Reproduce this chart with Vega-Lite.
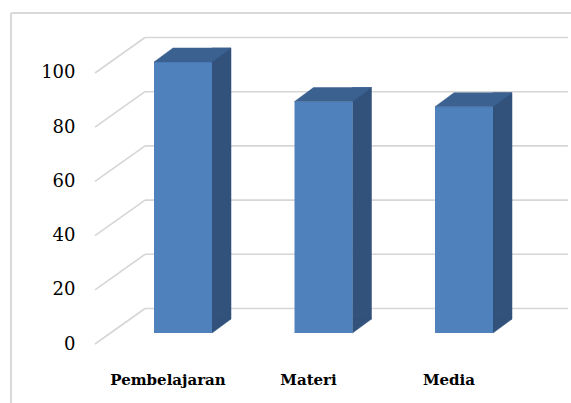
{
  "$schema": "https://vega.github.io/schema/vega-lite/v6.json",
  "width": 560,
  "height": 390,
  "autosize": {"type": "none"},
  "padding": {"left": 11, "top": 13, "right": 0, "bottom": 0},
  "background": "white",
  "config": {"view": {"stroke": null}, "font": "DejaVu Serif"},
  "datasets": {
    "scores": [
      {"aspek": "Pembelajaran", "nilai": 100},
      {"aspek": "Materi", "nilai": 85.4},
      {"aspek": "Media", "nilai": 83.5}
    ],
    "ticks": [{"t": 0}, {"t": 20}, {"t": 40}, {"t": 60}, {"t": 80}, {"t": 100}],
    "frame": [{"edge": "frame"}]
  },
  "layer": [
    {
      "data": {"name": "frame"},
      "mark": {"type": "rule", "color": "#d9d9d9", "strokeWidth": 2},
      "encoding": {
        "x": {"datum": 0, "type": "quantitative", "scale": {"domain": [0, 1], "nice": false, "zero": false}, "axis": null}
      }
    },
    {
      "data": {"name": "frame"},
      "mark": {"type": "rule", "color": "#d9d9d9", "strokeWidth": 2},
      "encoding": {
        "y": {"datum": 118.08, "type": "quantitative", "scale": {"domain": [-25.83, 118.08], "nice": false, "zero": false}, "axis": null}
      }
    },
    {
      "data": {"name": "ticks"},
      "mark": {"type": "rule", "color": "#d6d6d6", "strokeWidth": 1.6, "yOffset": 11, "y2Offset": -24.5},
      "encoding": {
        "x": {"datum": 0.15, "type": "quantitative", "scale": {"domain": [0, 1], "nice": false, "zero": false}, "axis": null},
        "x2": {"datum": 0.2393},
        "y": {"field": "t", "type": "quantitative", "scale": {"domain": [-25.83, 118.08], "nice": false, "zero": false}, "axis": null},
        "y2": {"field": "t"}
      }
    },
    {
      "data": {"name": "ticks"},
      "mark": {"type": "rule", "color": "#d6d6d6", "strokeWidth": 1.6, "yOffset": -24.5},
      "encoding": {
        "x": {"datum": 0.2393, "type": "quantitative", "scale": {"domain": [0, 1], "nice": false, "zero": false}, "axis": null},
        "x2": {"datum": 0.9946},
        "y": {"field": "t", "type": "quantitative", "scale": {"domain": [-25.83, 118.08], "nice": false, "zero": false}, "axis": null}
      }
    },
    {
      "data": {"name": "scores"},
      "encoding": {
        "x": {
          "field": "aspek",
          "type": "nominal",
          "sort": null,
          "scale": {"paddingInner": 0, "paddingOuter": 0.4929, "align": 0.7347},
          "axis": {
            "orient": "bottom",
            "title": null,
            "domain": false,
            "ticks": false,
            "tickSize": 0,
            "labelAngle": 0,
            "labelFont": "DejaVu Serif",
            "labelFontWeight": "bold",
            "labelFontSize": 15,
            "labelColor": "#000000",
            "labelOffset": -15,
            "offset": -59,
            "labelPadding": 28
          }
        }
      },
      "layer": [
        {
          "mark": {"type": "bar", "width": 19, "xOffset": 38.5, "yOffset": -14, "y2Offset": -14, "color": "#32527C", "stroke": "#32527C", "strokeWidth": 0.5},
          "encoding": {
            "y": {"field": "nilai", "type": "quantitative", "scale": {"domain": [-25.83, 118.08], "nice": false, "zero": false}, "axis": null},
            "y2": {"datum": 0}
          }
        },
        {
          "mark": {"type": "point", "shape": "M29,0L29,-14L48,-14Z", "size": 4, "filled": true, "opacity": 1, "color": "#32527C", "stroke": "#32527C", "strokeWidth": 0.5},
          "encoding": {
            "y": {"datum": 0, "type": "quantitative", "scale": {"domain": [-25.83, 118.08], "nice": false, "zero": false}, "axis": null}
          }
        },
        {
          "mark": {"type": "bar", "width": 58, "color": "#4F81BD"},
          "encoding": {
            "y": {
              "field": "nilai",
              "type": "quantitative",
              "scale": {"domain": [-25.83, 118.08], "nice": false, "zero": false},
              "axis": {
                "values": [0, 20, 40, 60, 80, 100],
                "title": null,
                "domain": false,
                "ticks": false,
                "tickSize": 0,
                "grid": false,
                "labelFont": "DejaVu Serif",
                "labelFontSize": 18,
                "labelColor": "#000000",
                "labelOffset": 11,
                "offset": -84,
                "labelPadding": 20
              }
            },
            "y2": {"datum": 0}
          }
        },
        {
          "mark": {"type": "point", "shape": "M-29,0L29,0L48,-14L-10,-14Z", "size": 4, "filled": true, "opacity": 1, "color": "#3B6191", "stroke": "#3B6191", "strokeWidth": 0.5},
          "encoding": {
            "y": {"field": "nilai", "type": "quantitative", "scale": {"domain": [-25.83, 118.08], "nice": false, "zero": false}, "axis": null}
          }
        }
      ],
      "resolve": {"axis": {"y": "independent"}}
    }
  ],
  "resolve": {"scale": {"x": "independent"}, "axis": {"y": "independent"}}
}
